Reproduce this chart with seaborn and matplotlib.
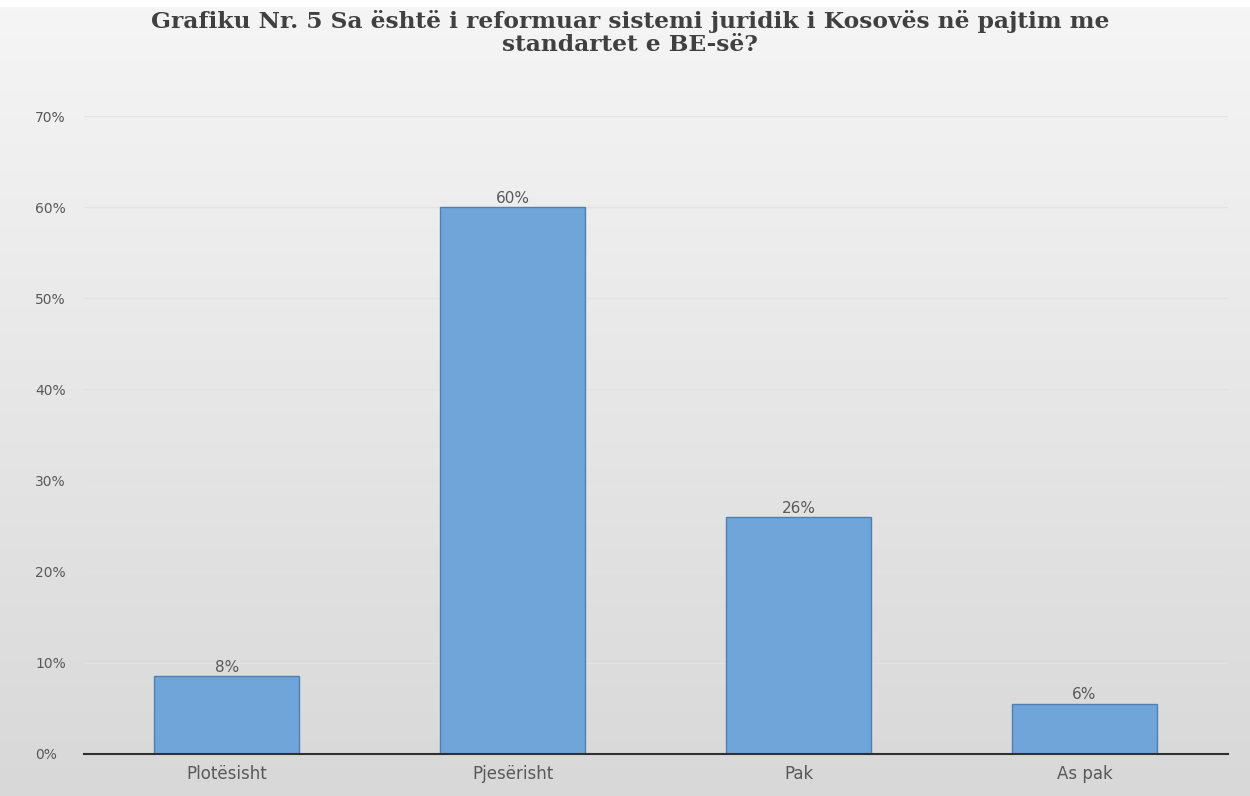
import numpy as np
import matplotlib
matplotlib.use("Agg")
import matplotlib.pyplot as plt
import seaborn as sns
import pandas as pd
from matplotlib.colors import LinearSegmentedColormap

categories = ["Plotësisht", "Pjesërisht", "Pak", "As pak"]
values = [8.5, 60.0, 26.0, 5.5]
value_labels = ["8%", "60%", "26%", "6%"]
yticks = [0, 10, 20, 30, 40, 50, 60, 70]
ytick_labels = ["0%", "10%", "20%", "30%", "40%", "50%", "60%", "70%"]
title = "Grafiku Nr. 5 Sa është i reformuar sistemi juridik i Kosovës në pajtim me\nstandartet e BE-së?"

sns.set_style("white")
plt.rcParams['font.family'] = ['DejaVu Sans']

fig = plt.figure(figsize=(12.5, 7.96), dpi=100)
fig.patch.set_facecolor("white")

# background gradient
bg = fig.add_axes([0, 0, 1, 0.991], zorder=0)
grad = np.linspace(0, 1, 256).reshape(-1, 1)
cmap = LinearSegmentedColormap.from_list("bg", ["#f5f5f5", "#d8d8d8"])
bg.imshow(grad, aspect="auto", cmap=cmap, extent=[0, 1, 0, 1], origin="upper")
bg.axis("off")

ax = fig.add_axes([0.067, 0.053, 0.915, 0.801], zorder=1)
ax.patch.set_alpha(0)

df = pd.DataFrame({"cat": categories, "val": values})
sns.barplot(data=df, x="cat", y="val", ax=ax, color="#6fa5d8", width=0.507,
            edgecolor="#4f7fb3", linewidth=1.0, saturation=1)

ax.set_ylim(0, 70)
ax.set_xlim(-0.5, 3.5)
ax.set_yticks(yticks)
ax.set_yticklabels(ytick_labels)
ax.set_xlabel("")
ax.set_ylabel("")
ax.grid(axis="y", color="#e2e2e2", linewidth=1)
ax.set_axisbelow(True)
for s in ["top", "right", "left"]:
    ax.spines[s].set_visible(False)
ax.spines["bottom"].set_color("#303030")
ax.spines["bottom"].set_linewidth(1.5)
ax.tick_params(axis="y", length=0, labelsize=10, labelcolor="#595959")
ax.tick_params(axis="x", length=0, labelsize=12, labelcolor="#595959", pad=8)
for lab in ax.get_yticklabels():
    lab.set_horizontalalignment("left")
ax.yaxis.set_tick_params(pad=35)

for container in ax.containers:
    ax.bar_label(container, labels=value_labels, fontsize=11, color="#595959", padding=1)

fig.text(0.504, 0.987, title, ha="center", va="top", fontsize=16.8, fontweight="bold",
         family="DejaVu Serif", color="#404040", linespacing=1.05)

fig.savefig("out.png", dpi=100)
